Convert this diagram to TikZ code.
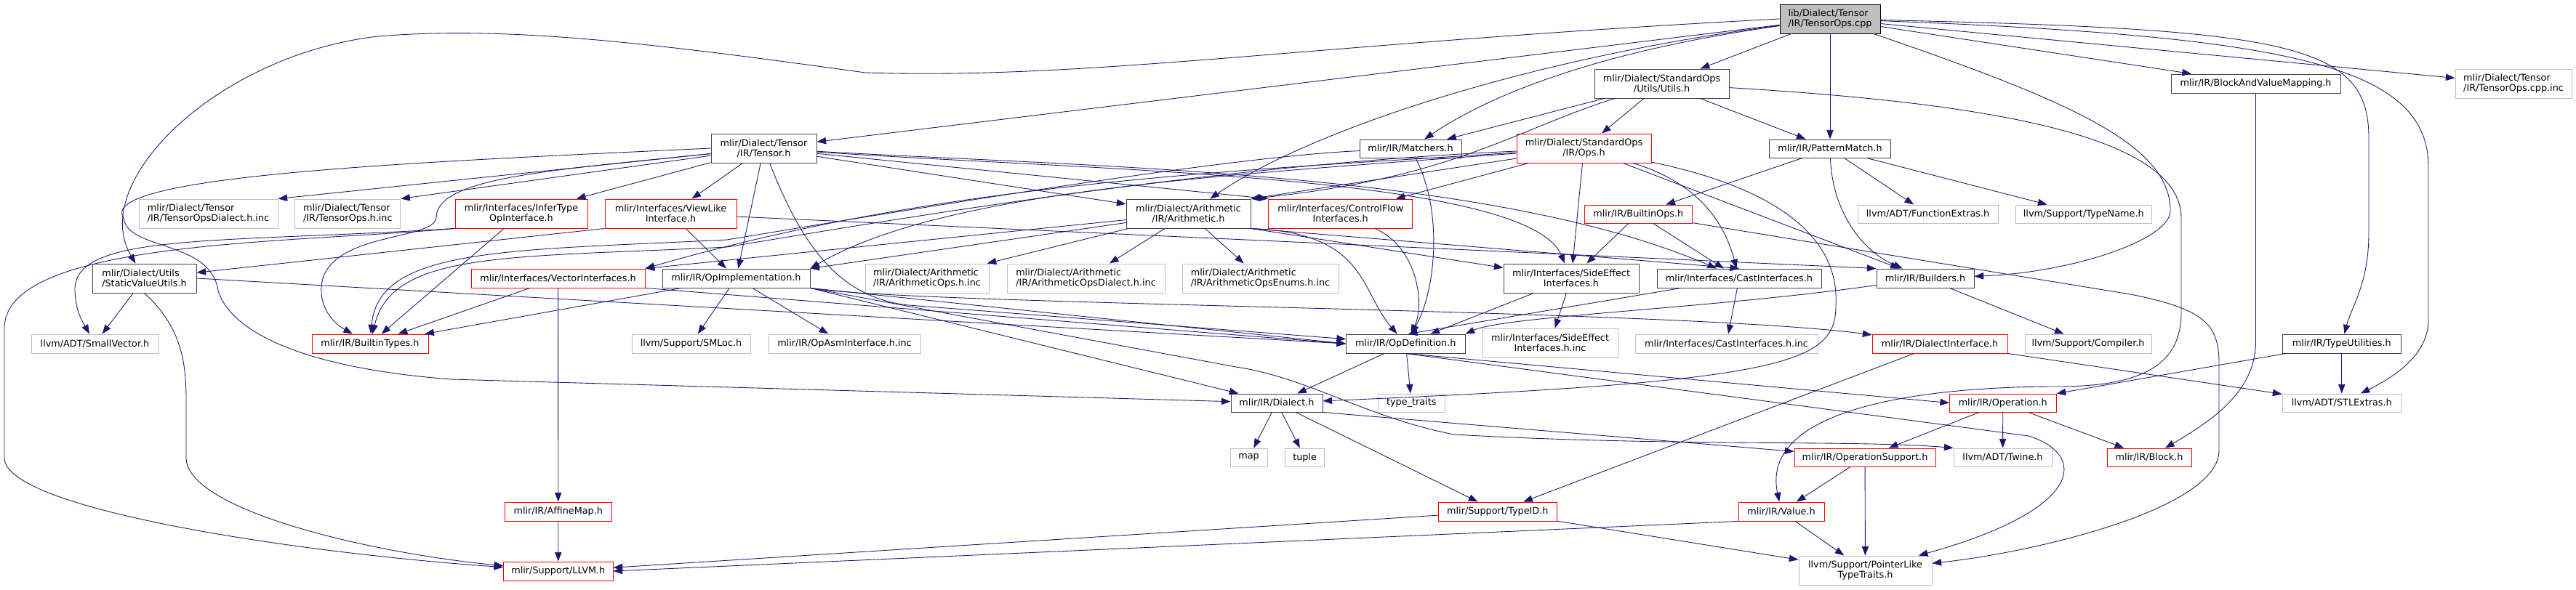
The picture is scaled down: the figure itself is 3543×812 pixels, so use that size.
\documentclass[tikz,border=0pt]{standalone}
\usepackage{fontspec}
\setmainfont{DejaVu Sans}
\usetikzlibrary{arrows.meta}

\definecolor{edgeblue}{HTML}{191970}
\definecolor{docgrey}{HTML}{404040}
\definecolor{extgrey}{HTML}{BFBFBF}

\begin{document}
\begin{tikzpicture}[x=0.75pt, y=-0.75pt,
    font=\fontsize{9.6}{10.5}\selectfont,
    every node/.style={inner sep=0pt, align=center},
    sz/.style 2 args={minimum width=#1*\px, minimum height=#2*\px},
    doc/.style={draw=docgrey, line width=0.7pt},
    trunc/.style={draw=red, line width=0.7pt},
    ext/.style={draw=extgrey, line width=0.7pt},
    srcfile/.style={draw=black, fill=extgrey, line width=0.7pt},
    dep/.style={draw=edgeblue, line width=0.65pt, -{Triangle[length=9.5pt, width=7pt]}}]
    \def\px{0.75pt}
    \fill[white] (0,0) rectangle (3543,812);

    \node[srcfile, sz={138}{40}, align=left] (root) at (2517,26) {lib/Dialect/Tensor\\/IR/TensorOps.cpp};
    \node[doc, sz={145}{40}] (tensor) at (1050.5,204) {mlir/Dialect/Tensor\\/IR/Tensor.h};
    \node[doc, sz={185}{40}] (utils) at (2285.5,115) {mlir/Dialect/StandardOps\\/Utils/Utils.h};
    \node[doc, sz={167}{25}] (patmatch) at (2517,204.5) {mlir/IR/PatternMatch.h};
    \node[doc, sz={233}{26}] (bvm) at (3102.5,115) {mlir/IR/BlockAndValueMapping.h};
    \node[ext, sz={160}{40}, align=left] (cppinc) at (3457,115) {mlir/Dialect/Tensor\\/IR/TensorOps.cpp.inc};
    \node[doc, sz={140}{25}] (matchers) at (1940,204.5) {mlir/IR/Matchers.h};
    \node[trunc, sz={185}{40}] (ops) at (2178.5,204) {mlir/Dialect/StandardOps\\/IR/Ops.h};
    \node[ext, sz={191}{40}, align=left] (tdialinc) at (286.5,294) {mlir/Dialect/Tensor\\/IR/TensorOpsDialect.h.inc};
    \node[ext, sz={145}{40}, align=left] (topsinc) at (478.3,294) {mlir/Dialect/Tensor\\/IR/TensorOps.h.inc};
    \node[doc, sz={143}{40}, align=left] (staticval) at (198.5,383) {mlir/Dialect/Utils\\/StaticValueUtils.h};
    \node[trunc, sz={182}{40}] (infer) at (717,294) {mlir/Interfaces/InferType\\OpInterface.h};
    \node[trunc, sz={181}{40}] (viewlike) at (922.5,294) {mlir/Interfaces/ViewLike\\Interface.h};
    \node[trunc, sz={239}{26}] (vectorint) at (767.5,383) {mlir/Interfaces/VectorInterfaces.h};
    \node[doc, sz={203}{26}] (opimpl) at (1012.5,383) {mlir/IR/OpImplementation.h};
    \node[doc, sz={171}{40}] (arith) at (1634.5,294) {mlir/Dialect/Arithmetic\\/IR/Arithmetic.h};
    \node[trunc, sz={198}{40}] (ctrlflow) at (1843.75,294) {mlir/Interfaces/ControlFlow\\Interfaces.h};
    \node[ext, sz={170}{40}, align=left] (aopsinc) at (1275,383) {mlir/Dialect/Arithmetic\\/IR/ArithmeticOps.h.inc};
    \node[ext, sz={217}{40}, align=left] (adialinc) at (1493.5,383) {mlir/Dialect/Arithmetic\\/IR/ArithmeticOpsDialect.h.inc};
    \node[ext, sz={215}{40}, align=left] (aenuminc) at (1733.5,383) {mlir/Dialect/Arithmetic\\/IR/ArithmeticOpsEnums.h.inc};
    \node[doc, sz={186}{40}] (sideeff) at (2161,383) {mlir/Interfaces/SideEffect\\Interfaces.h};
    \node[trunc, sz={147.5}{25}] (builtinops) at (2253.25,294.5) {mlir/IR/BuiltinOps.h};
    \node[doc, sz={226}{26}] (cast) at (2392,383) {mlir/Interfaces/CastInterfaces.h};
    \node[doc, sz={134}{26}] (builders) at (2648,383) {mlir/IR/Builders.h};
    \node[ext, sz={193}{25}] (funcextras) at (2651.5,294.5) {llvm/ADT/FunctionExtras.h};
    \node[ext, sz={186.5}{25}] (typename) at (2865.75,294.5) {llvm/Support/TypeName.h};
    \node[doc, sz={163.5}{26}] (typeutil) at (3220.75,473) {mlir/IR/TypeUtilities.h};
    \node[ext, sz={163.5}{25}] (stlextras) at (3220.75,554.5) {llvm/ADT/STLExtras.h};
    \node[trunc, sz={116}{25}] (block) at (2956,629.5) {mlir/IR/Block.h};
    \node[ext, sz={175}{26}] (smallvec) at (130.5,473) {llvm/ADT/SmallVector.h};
    \node[trunc, sz={160}{26}] (builtintypes) at (509,473) {mlir/IR/BuiltinTypes.h};
    \node[trunc, sz={146.5}{26}] (affinemap) at (767.75,704) {mlir/IR/AffineMap.h};
    \node[trunc, sz={150.4}{26}] (llvm) at (767.8,786) {mlir/Support/LLVM.h};
    \node[ext, sz={163}{26}] (smloc) at (950.5,473) {llvm/Support/SMLoc.h};
    \node[ext, sz={209}{26}] (opasminc) at (1161.5,473) {mlir/IR/OpAsmInterface.h.inc};
    \node[doc, sz={163.5}{26}] (opdef) at (1933.25,473) {mlir/IR/OpDefinition.h};
    \node[ext, sz={186}{40}] (sideeffinc) at (2132,472) {mlir/Interfaces/SideEffect\\Interfaces.h.inc};
    \node[ext, sz={251}{26}] (castinc) at (2374.5,473) {mlir/Interfaces/CastInterfaces.h.inc};
    \node[trunc, sz={186}{26}] (dialectint) at (2668,473) {mlir/IR/DialectInterface.h};
    \node[ext, sz={174}{26}] (compiler) at (2872,473) {llvm/Support/Compiler.h};
    \node[doc, sz={126}{25}] (dialect) at (1756,554.5) {mlir/IR/Dialect.h};
    \node[ext, sz={91.5}{25}] (typetraits) at (1941.25,554.5) {type\_traits};
    \node[ext, sz={51}{25}] (map) at (1717.5,629.5) {map};
    \node[ext, sz={54}{25}] (tuple) at (1794.6,629.5) {tuple};
    \node[trunc, sz={146.5}{25}] (operation) at (2754.75,554.5) {mlir/IR/Operation.h};
    \node[trunc, sz={194}{25}] (opsupport) at (2565,629.5) {mlir/IR/OperationSupport.h};
    \node[ext, sz={135}{25}] (twine) at (2754.5,629.5) {llvm/ADT/Twine.h};
    \node[trunc, sz={118}{26}] (value) at (2450,704) {mlir/IR/Value.h};
    \node[ext, sz={183}{40}] (pointerlike) at (2565.5,785) {llvm/Support/PointerLike\\TypeTraits.h};
    \node[trunc, sz={162.4}{26}] (typeid) at (2059.8,704) {mlir/Support/TypeID.h};

    \draw[dep] (root) -- (tensor);
    \draw[dep] (root) -- (utils);
    \draw[dep] (root) -- (patmatch);
    \draw[dep] (root) -- (bvm);
    \draw[dep] (root) -- (cppinc);
    \draw[dep] (root) .. controls (2200,70) and (2050,130) .. (matchers);
    \draw[dep] (root) .. controls (2100,80) and (1800,180) .. (arith);
    \draw[dep] (root.west) .. controls (1800,60) and (1500,110) .. (1190,100) .. controls (900,60) and (700,35) .. (520,50) .. controls (300,75) and (120,250) .. (staticval);
    \draw[dep] (root) .. controls (2850,140) and (2985,200) .. (2985,290) .. controls (2985,330) and (2850,375) .. (builders);
    \draw[dep] (root) .. controls (3150,40) and (3258,60) .. (3258,190) -- (3258,320) .. controls (3258,390) and (3235,420) .. (typeutil);
    \draw[dep] (root) .. controls (3150,50) and (3340,90) .. (3340,230) -- (3340,440) .. controls (3340,490) and (3290,520) .. (stlextras);

    \draw[dep] (utils) -- (ops);
    \draw[dep] (utils) -- (matchers);
    \draw[dep] (utils) -- (patmatch);
    \draw[dep] (utils) .. controls (2080,180) and (2000,245) .. (arith.north east);
    \draw[dep] (utils) .. controls (2700,140) and (3000,180) .. (3000,300) -- (3000,430) .. controls (3000,500) and (2950,532) .. (2830,532) .. controls (2650,532) and (2420,560) .. (value);

    \draw[dep] (tensor.west) .. controls (600,222) and (130,240) .. (170,300) .. controls (175,345) and (290,330) .. (300,400) .. controls (315,450) and (400,505) .. (620,522) -- (dialect);
    \draw[dep] (tensor) -- (tdialinc.north east);
    \draw[dep] (tensor) -- (topsinc.north east);
    \draw[dep] (tensor) -- (infer);
    \draw[dep] (tensor) -- (viewlike);
    \draw[dep] (tensor) -- (opimpl);
    \draw[dep] (tensor) -- (arith);
    \draw[dep] (tensor) -- (ctrlflow.north west);
    \draw[dep] (tensor) .. controls (1500,235) and (2100,240) .. (sideeff);
    \draw[dep] (tensor) .. controls (1500,230) and (2050,235) .. (cast);
    \draw[dep] (tensor) .. controls (1100,330) and (1150,410) .. (1250,420) -- (opdef);
    \draw[dep] (tensor) .. controls (750,235) and (600,245) .. (600,300) .. controls (595,330) and (470,320) .. (445,380) .. controls (435,410) and (450,440) .. (builtintypes);

    \draw[dep] (infer) -- (builtintypes);
    \draw[dep] (infer.south west) .. controls (300,335) and (100,320) .. (103,400) .. controls (104,430) and (115,445) .. (smallvec);
    \draw[dep] (infer.south west) .. controls (400,335) and (10,330) .. (6,450) -- (6,630) .. controls (6,700) and (400,760) .. (llvm);

    \draw[dep] (viewlike) -- (opimpl);
    \draw[dep] (viewlike.south west) -- (staticval);
    \draw[dep] (viewlike) -- (builders.north west);

    \draw[dep] (vectorint) -- (builtintypes);
    \draw[dep] (vectorint) -- (affinemap);
    \draw[dep] (vectorint.south east) -- (opdef.west);

    \draw[dep] (opimpl) -- (builtintypes);
    \draw[dep] (opimpl) -- (smloc);
    \draw[dep] (opimpl) -- (opasminc);
    \draw[dep] (opimpl.south east) -- (opdef.west);
    \draw[dep] (opimpl.south east) .. controls (1250,420) and (2300,425) .. (dialectint);
    \draw[dep] (opimpl.south east) -- (dialect);
    \draw[dep] (opimpl.south east) -- (1700,505) .. controls (1800,520) and (1880,575) .. (2000,598) .. controls (2300,615) and (2550,605) .. (twine.north west);

    \draw[dep] (arith) -- (aopsinc);
    \draw[dep] (arith) -- (adialinc);
    \draw[dep] (arith) -- (aenuminc);
    \draw[dep] (arith) -- (vectorint.north east);
    \draw[dep] (arith) -- (opimpl.north east);
    \draw[dep] (arith.south east) -- (sideeff);
    \draw[dep] (arith.south east) -- (cast.north);
    \draw[dep] (arith.south east) .. controls (1880,320) and (1870,400) .. (opdef);

    \draw[dep] (ops) -- (arith.north east);
    \draw[dep] (ops) -- (ctrlflow);
    \draw[dep] (ops) -- (sideeff);
    \draw[dep] (ops) .. controls (2330,250) and (2370,300) .. (cast);
    \draw[dep] (ops) -- (builders);
    \draw[dep] (ops) .. controls (2450,260) and (2530,330) .. (2525,420) .. controls (2525,500) and (2460,525) .. (dialect);
    \draw[dep] (ops) .. controls (1700,235) and (1300,250) .. (vectorint.north east);
    \draw[dep] (ops) .. controls (1700,240) and (1300,260) .. (opimpl.north east);
    \draw[dep] (ops) .. controls (1700,225) and (1300,290) .. (1000,340) .. controls (700,355) and (540,345) .. (builtintypes);

    \draw[dep] (matchers) .. controls (1700,215) and (1300,280) .. (1000,330) .. controls (700,345) and (520,340) .. (builtintypes);
    \draw[dep] (matchers) .. controls (1985,290) and (1975,400) .. (opdef);
    \draw[dep] (ctrlflow) .. controls (1950,340) and (1960,420) .. (opdef);

    \draw[dep] (patmatch) .. controls (2520,290) and (2560,345) .. (builders);
    \draw[dep] (patmatch) -- (builtinops);
    \draw[dep] (patmatch) -- (funcextras);
    \draw[dep] (patmatch) -- (typename);

    \draw[dep] (builtinops) -- (sideeff);
    \draw[dep] (builtinops) -- (cast);
    \draw[dep] (builtinops) -- (2930,405) .. controls (3030,425) and (3052,445) .. (3052,500) -- (3052,620) .. controls (3052,700) and (2800,760) .. (pointerlike);

    \draw[dep] (staticval) -- (smallvec);
    \draw[dep] (staticval.south) .. controls (250,450) and (256,500) .. (256,550) -- (256,630) .. controls (256,700) and (500,760) .. (llvm);
    \draw[dep] (staticval.east) -- (opdef.west);

    \draw[dep] (sideeff) -- (sideeffinc);
    \draw[dep] (sideeff) -- (opdef);
    \draw[dep] (cast) -- (castinc);
    \draw[dep] (cast) -- (opdef.75);
    \draw[dep] (builders) .. controls (2350,425) and (2070,435) .. (opdef.north east);
    \draw[dep] (builders) -- (compiler);

    \draw[dep] (opdef) -- (dialect);
    \draw[dep] (opdef) -- (typetraits);
    \draw[dep] (opdef.south) -- (operation.west);
    \draw[dep] (opdef.south) -- (2790,600) .. controls (2870,625) and (2870,700) .. (pointerlike);

    \draw[dep] (dialect) -- (map);
    \draw[dep] (dialect) -- (tuple);
    \draw[dep] (dialect) -- (typeid);
    \draw[dep] (dialect.south east) -- (opsupport);
    \draw[dep] (dialectint) -- (typeid);
    \draw[dep] (dialectint.south east) -- (stlextras);
    \draw[dep] (operation) -- (opsupport);
    \draw[dep] (operation) -- (twine);
    \draw[dep] (operation) -- (block);
    \draw[dep] (typeutil) -- (operation);
    \draw[dep] (typeutil) -- (stlextras);
    \draw[dep] (opsupport) -- (value);
    \draw[dep] (opsupport) -- (pointerlike);
    \draw[dep] (value.south west) -- (llvm.east);
    \draw[dep] (value) -- (pointerlike);
    \draw[dep] (typeid) -- (llvm);
    \draw[dep] (typeid) -- (pointerlike);
    \draw[dep] (affinemap) -- (llvm);
    \draw[dep] (bvm.south) -- (3102.5,470) .. controls (3102.5,540) and (3040,580) .. (block);
\end{tikzpicture}
\end{document}
